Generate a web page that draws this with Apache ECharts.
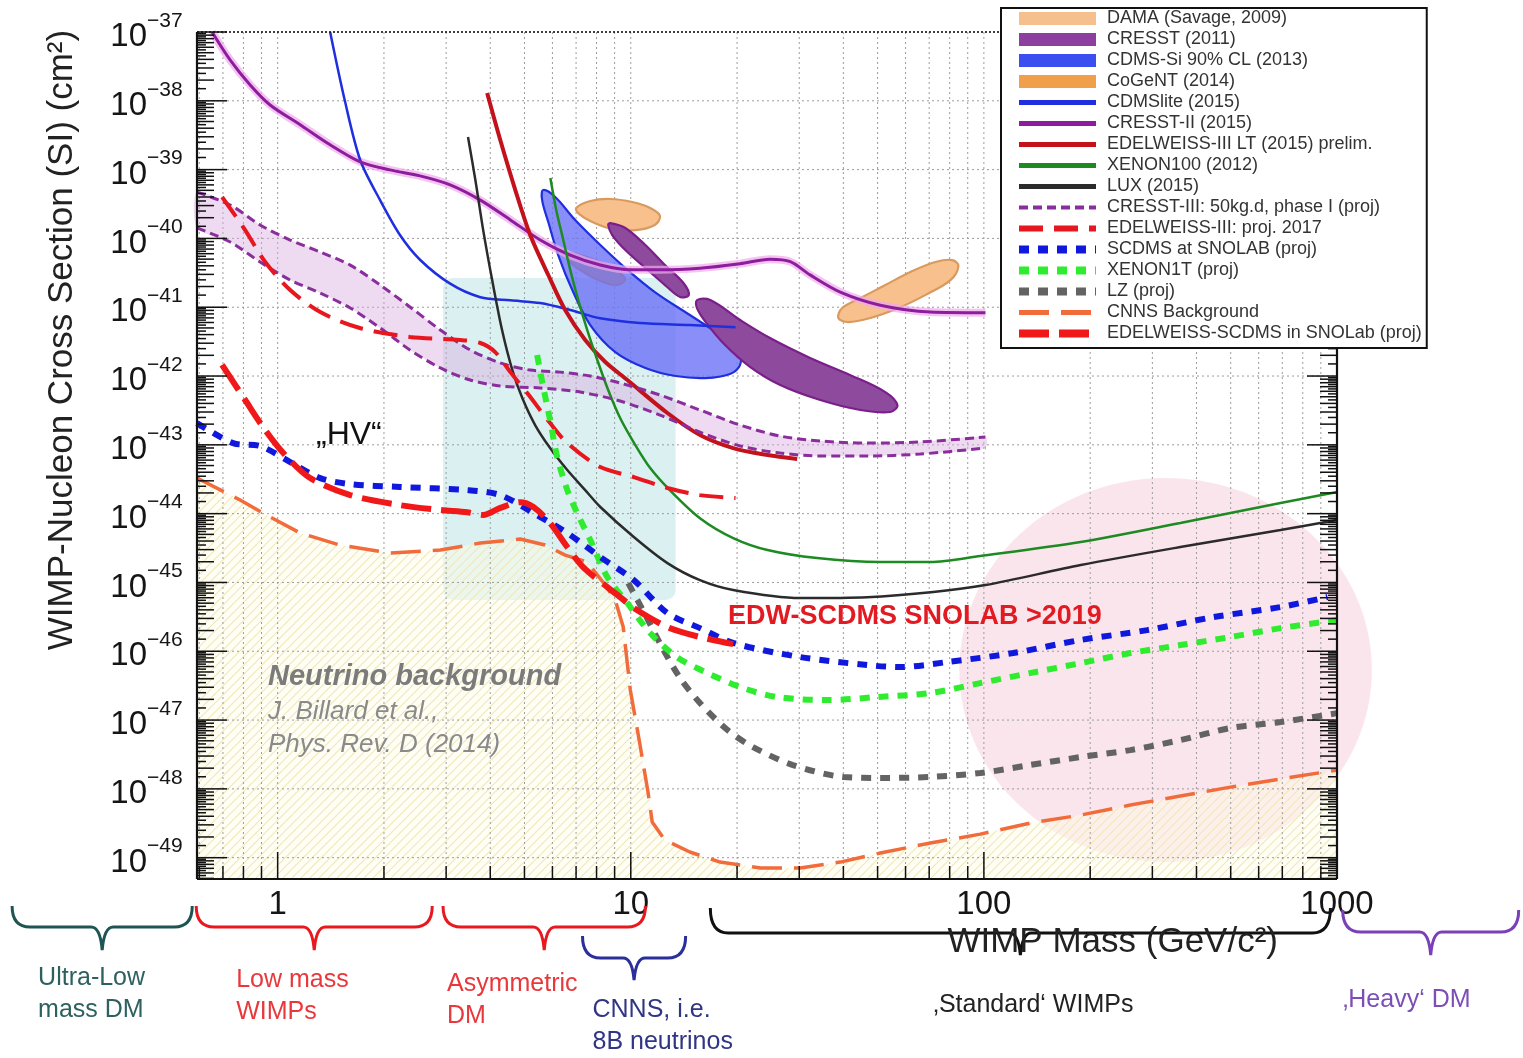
<!DOCTYPE html>
<html>
<head>
<meta charset="utf-8">
<title>WIMP-Nucleon Cross Section limits and projections</title>
<script src="https://cdn.jsdelivr.net/npm/echarts@6/dist/echarts.min.js"></script>
<style>
  html, body { margin: 0; padding: 0; background: #ffffff; }
  #chart { width: 1523px; height: 1058px; }
</style>
</head>
<body>
<div id="chart"></div>
<script>
// Axis ranges: WIMP mass in GeV/c^2, spin-independent WIMP-nucleon cross-section in cm^2
const massRange = [0.591, 1000];
const sigmaRange = [4.9e-50, 1e-37];

// Tick labels
const massTickValues = [1, 10, 100, 1000];
const massTickLabels = ['1', '10', '100', '1000'];
const sigmaTickExponents = [-49, -48, -47, -46, -45, -44, -43, -42, -41, -40, -39, -38, -37];

// Exclusion limits, [mass, sigma]
const cdmslite = [[1.408,1e-37],[1.55,1.0e-38],[1.713,1.38e-39],[1.95,3.6e-40],[2.22,1.12e-40],[2.53,4.9e-41],[3.08,2.2e-41],[3.75,1.4e-41],[4.56,1.26e-41],[5.54,1.15e-41],[6.74,9.1e-42],[8.19,6.9e-42],[10.6,5.9e-42],[14.7,5.5e-42],[19.8,5.1e-42]];
const cresst2 = [[0.652,1e-37],[0.734,3.9e-38],[0.836,1.7e-38],[0.952,8.7e-39],[1.158,4.5e-39],[1.408,2.3e-39],[1.713,1.3e-39],[2.08,9.9e-40],[2.53,8.1e-40],[3.08,6.0e-40],[3.75,3.6e-40],[4.56,1.86e-40],[5.54,9.5e-41],[6.74,5.7e-41],[8.19,4.1e-41],[9.97,3.5e-41],[12.1,3.5e-41],[15.7,3.7e-41],[20.4,4.3e-41],[24.8,5.0e-41],[28.3,4.6e-41],[32.2,2.95e-41],[39.2,1.66e-41],[50.9,1.07e-41],[70.5,8.5e-42],[101,8.3e-42]];
const edw3lt = [[3.92,1.3e-38],[4.27,2.69e-39],[4.71,5.05e-40],[5.19,1.12e-40],[5.84,2.94e-41],[6.52,9.1e-42],[7.43,3.34e-42],[8.47,1.6e-42],[9.78,8.75e-43],[12.7,2.9e-43],[15.7,1.39e-43],[19.5,8.98e-44],[24.4,7.11e-44],[29.6,6.22e-44]];
const xenon100 = [[5.92,7.55e-40],[6.15,2.59e-40],[6.44,9.48e-41],[6.74,3.47e-41],[7.10,1.27e-41],[7.53,4.66e-42],[8.04,1.71e-42],[8.63,6.26e-43],[9.33,2.45e-43],[10.3,9.93e-44],[11.35,4.6e-44],[12.9,2.2e-44],[15.7,8.6e-45],[19.5,4.42e-45],[24.4,2.96e-45],[33.7,2.26e-45],[50.9,1.98e-45],[70.5,1.98e-45],[97.7,2.42e-45],[188,3.86e-45],[360,7.3e-45],[692,1.43e-44],[1000,2.06e-44]];
const lux = [[3.46,2.98e-39],[3.63,7.06e-40],[3.82,1.32e-40],[4.05,2.48e-41],[4.32,4.66e-42],[4.62,1.22e-42],[4.93,4.79e-43],[5.36,1.94e-43],[5.91,8.98e-44],[6.61,4.3e-44],[7.43,2.2e-44],[8.20,1.25e-44],[10.2,4.57e-45],[12.7,1.91e-45],[15.7,1.08e-45],[19.5,7.76e-46],[30.2,5.93e-46],[46.7,6.1e-46],[71.9,7.25e-46],[101,9.16e-46],[188,1.79e-45],[360,3.27e-45],[692,5.78e-45],[1000,8.07e-45]];

// Projected sensitivities, [mass, sigma]
const cresst3Upper = [[0.591,4.72e-40],[0.734,3.06e-40],[0.892,1.57e-40],[1.085,9.48e-41],[1.32,6.34e-41],[1.605,4.10e-41],[1.951,2.10e-41],[2.37,1.01e-41],[2.89,4.66e-42],[3.51,2.39e-42],[4.27,1.55e-42],[5.19,1.22e-42],[6.31,1.14e-42],[7.67,1.0e-42],[9.33,7.91e-43],[12.1,5.30e-43],[15.7,3.21e-43],[20.4,1.94e-43],[26.5,1.34e-43],[34.4,1.14e-43],[46.8,1.06e-43],[66.1,1.10e-43],[101,1.30e-43]];
const cresst3Lower = [[0.591,1.42e-40],[0.734,8.87e-41],[0.892,4.54e-41],[1.085,2.48e-41],[1.32,1.61e-41],[1.605,9.73e-42],[1.951,4.99e-42],[2.37,2.39e-42],[2.89,1.31e-42],[3.51,8.75e-43],[4.27,7.16e-43],[5.54,6.70e-43],[7.19,5.85e-43],[9.33,4.33e-43],[12.1,2.71e-43],[15.7,1.53e-43],[20.4,9.61e-44],[26.5,7.6e-44],[34.4,6.88e-44],[46.8,6.88e-44],[66.1,7.35e-44],[101,8.98e-44]];
const edw3proj = [[0.696,4.0e-40],[0.809,1.32e-40],[0.922,4.54e-41],[1.085,1.78e-41],[1.32,8.5e-42],[1.71,4.99e-42],[2.37,3.69e-42],[3.29,3.34e-42],[3.75,3.02e-42],[4.13,2.23e-42],[4.56,1.14e-42],[5.09,5.66e-43],[5.91,2.07e-43],[6.61,1.06e-43],[8.20,4.75e-44],[10.2,3.4e-44],[12.7,2.36e-44],[15.7,1.86e-44],[19.8,1.69e-44]];
const scdms = [[0.591,2.07e-43],[0.748,1.06e-43],[0.892,9.6e-44],[1.085,5.62e-44],[1.32,3.29e-44],[1.605,2.69e-44],[2.22,2.44e-44],[3.44,2.20e-44],[4.27,1.86e-44],[5.30,1.02e-44],[6.61,5.23e-45],[8.20,2.34e-45],[10.2,1.08e-45],[12.7,3.59e-46],[15.7,2.17e-46],[19.5,1.32e-46],[30.2,8.24e-47],[46.7,6.30e-47],[58.0,5.89e-47],[78.8,6.97e-47],[121,9.42e-47],[188,1.46e-46],[290,2.03e-46],[447,3.14e-46],[692,4.39e-46],[940,6.14e-46]];
const xenon1t = [[5.43,2.02e-42],[5.65,6.92e-43],[5.91,2.29e-43],[6.19,6.65e-44],[6.61,2.20e-44],[7.05,1.02e-44],[7.68,4.13e-45],[8.58,1.20e-45],[9.78,5.02e-46],[11.35,1.84e-46],[13.5,8.24e-47],[16.5,4.82e-47],[20.8,2.92e-47],[26.0,2.16e-47],[36.0,1.95e-47],[49.9,2.16e-47],[70.5,2.47e-47],[97.7,3.45e-47],[135,4.82e-47],[188,6.73e-47],[260,9.42e-47],[360,1.23e-46],[499,1.61e-46],[692,2.17e-46],[1000,2.84e-46]];
const lz = [[9.84,9.8e-46],[11.0,3.36e-46],[12.3,1.11e-46],[13.8,4.07e-47],[15.7,1.77e-47],[18.8,7.16e-48],[22.2,4.05e-48],[28.8,2.22e-48],[40.0,1.49e-48],[50.9,1.44e-48],[70.5,1.49e-48],[97.7,1.70e-48],[135,2.22e-48],[188,2.90e-48],[260,3.66e-48],[360,5.12e-48],[499,7.66e-48],[692,9.35e-48],[1000,1.26e-47]];
const cnns = [[0.591,3.29e-44],[0.783,1.58e-44],[0.952,8.93e-45],[1.158,5.23e-45],[1.50,3.5e-45],[2.08,2.67e-45],[2.89,2.96e-45],[3.75,3.74e-45],[4.86,4.28e-45],[5.72,3.5e-45],[6.52,2.5e-45],[7.53,1.98e-45],[8.47,9.16e-46],[9.04,5.55e-46],[9.52,2.25e-46],[9.97,2.73e-47],[10.6,4.63e-48],[11.2,8.69e-49],[11.5,3.29e-49],[12.5,1.8e-49],[14.7,1.21e-49],[17.9,8.63e-50],[23.3,7.06e-50],[30.2,7.06e-50],[39.2,8.63e-50],[50.9,1.17e-49],[70.5,1.63e-49],[97.7,2.2e-49],[135,3.18e-49],[188,4.16e-49],[260,5.82e-49],[360,7.86e-49],[499,1.06e-48],[692,1.39e-48],[1000,1.88e-48]];
const edwScdms = [[0.696,1.45e-42],[0.809,4.48e-43],[0.922,1.64e-43],[1.05,7.11e-44],[1.236,3.29e-44],[1.605,1.86e-44],[2.22,1.33e-44],[2.89,1.13e-44],[3.44,1.05e-44],[3.82,9.55e-45],[4.27,1.21e-44],[4.86,1.47e-44],[5.30,1.25e-44],[5.91,7.3e-45],[6.61,3.27e-45],[7.33,1.67e-45],[8.58,8.57e-46],[9.33,6.14e-46],[10.2,4.25e-46],[12.7,2.25e-46],[15.7,1.61e-46],[19.5,1.27e-46]];

// Signal-claim contours, [mass, sigma] outlines
const damaRegions = [
  [[7.01,2.77e-40],[7.68,3.50e-40],[8.75,3.74e-40],[10.1,3.38e-40],[11.35,2.77e-40],[12.1,2.12e-40],[11.7,1.57e-40],[10.3,1.32e-40],[8.86,1.37e-40],[7.78,1.73e-40],[7.15,2.26e-40]],
  [[38.7,6.97e-42],[39.7,9.73e-42],[44.7,1.36e-41],[52.6,2.10e-41],[61.9,3.25e-41],[72.9,4.54e-41],[81.4,4.85e-41],[84.7,3.97e-41],[80.4,2.48e-41],[68.2,1.50e-41],[57.3,9.73e-42],[47.7,6.97e-42],[41.3,6.09e-42]]
];
const cresst2011Regions = [
  [[8.75,1.67e-40],[9.65,1.42e-40],[11.0,8.02e-41],[12.5,4.10e-41],[14.1,2.25e-41],[14.6,1.50e-41],[13.8,1.41e-41],[12.5,2.10e-41],[11.0,3.72e-41],[9.65,6.78e-41],[8.86,1.12e-40],[8.63,1.57e-40]],
  [[15.4,1.27e-41],[16.8,1.27e-41],[20.4,6.52e-42],[24.8,3.56e-42],[32.2,1.83e-42],[41.9,1.03e-42],[52.6,5.85e-43],[56.9,3.79e-43],[54.3,3.0e-43],[44.7,3.21e-43],[34.4,4.48e-43],[26.5,7.40e-43],[21.8,1.35e-42],[18.5,2.82e-42],[16.3,6.09e-42],[15.4,9.73e-42]]
];
const cdmsSiRegions = [
  [[5.65,5.05e-40],[6.11,4.0e-40],[6.96,1.85e-40],[8.20,8.02e-41],[9.65,3.72e-41],[11.7,1.66e-41],[14.7,7.70e-42],[17.9,3.94e-42],[20.2,2.23e-42],[20.4,1.45e-42],[19.1,1.07e-42],[16.3,9.35e-43],[13.4,1.0e-42],[11.0,1.31e-42],[9.04,2.23e-42],[7.68,5.51e-42],[6.83,1.78e-41],[6.23,5.74e-41],[5.84,1.73e-40],[5.61,3.61e-40]]
];
const cogentRegions = [
  [[6.61,6.14e-41],[7.19,5.74e-41],[8.20,4.54e-41],[9.22,3.25e-41],[9.65,2.48e-41],[9.04,2.10e-41],[8.09,2.48e-41],[7.19,3.47e-41],[6.65,4.85e-41]]
];

// Theory-motivated regions: [mass from, sigma from, mass to, sigma to]
const asymmetricBox = [[2.94, 5.55e-46, 13.4, 2.65e-41]];
// Heavy DM disc: [centre mass, centre sigma, left-edge mass, top-edge sigma]
const heavyDisc = [[327, 5.33e-47, 85.2, 3.29e-44]];

// Mass ranges of the DM categories below the axis
const bandLabels = [['Ultra-Low', 'mass DM'], ['Low mass', 'WIMPs'], ['Asymmetric', 'DM'], ['CNNS, i.e.', '8B neutrinos'], ['\u201aStandard\u2018 WIMPs'], ['\u201aHeavy\u2018 DM']];
const bandFrom = [0.177, 0.588, 2.94, 7.30, 16.8, 1038];
const bandTo = [0.573, 2.74, 11.0, 14.3, 958, 3270];

// ---- styling ----
const FONT = '"Liberation Sans", Arial, Helvetica, sans-serif';
const braceRows = [[906, 927, 950], [906, 927, 950], [906, 927, 950], [936, 958, 980], [908, 933, 955], [910, 932, 955]];
const braceColors = ['#1d5552', '#e8181e', '#e8181e', '#2a2f9a', '#111111', '#7b3fb8'];
const bandTextColors = ['#2d6160', '#e8383c', '#e8383c', '#303584', '#222222', '#7b4fb5'];
const labelDx = [26, 40, 4, 10, 223, 0];
const labelY = [978, 980, 984, 1010, 1005, 1000];

function makeHatch() {
  const c = document.createElement('canvas');
  c.width = 9; c.height = 9;
  const g = c.getContext('2d');
  g.fillStyle = 'rgba(255,253,232,0.45)';
  g.fillRect(0, 0, 9, 9);
  g.strokeStyle = '#f0e8bc';
  g.lineWidth = 1.2;
  g.beginPath();
  g.moveTo(0, 9); g.lineTo(9, 0);
  g.moveTo(-2, 2); g.lineTo(2, -2);
  g.moveTo(7, 11); g.lineTo(11, 7);
  g.stroke();
  return c;
}
const hatchPattern = { image: makeHatch(), repeat: 'repeat' };

const chart = echarts.init(document.getElementById('chart'), null, { renderer: 'canvas' });

function gridItem(params, api) {
  const cs = params.coordSys;
  const L = cs.x, T = cs.y, R = cs.x + cs.width, B = cs.y + cs.height;
  const kids = [];
  const st = { stroke: '#9c9c9c', lineWidth: 1, lineDash: [2, 3] };
  for (let e = -1; e <= 2; e++) {
    for (let k = 1; k <= 9; k++) {
      const v = k * Math.pow(10, e);
      if (v <= massRange[0] * 1.001 || v >= massRange[1] * 0.999) continue;
      const x = api.coord([v, sigmaRange[0]])[0];
      kids.push({ type: 'line', shape: { x1: x, y1: T, x2: x, y2: B }, style: st });
    }
  }
  sigmaTickExponents.forEach(function (e) {
    if (e === -37) return;
    const y = api.coord([massRange[0], Math.pow(10, e)])[1];
    kids.push({ type: 'line', shape: { x1: L, y1: y, x2: R, y2: y }, style: st });
  });
  return { type: 'group', children: kids };
}

function frameItem(params, api) {
  const cs = params.coordSys;
  const L = cs.x, T = cs.y, R = cs.x + cs.width, B = cs.y + cs.height;
  const kids = [];
  const seg = function (x1, y1, x2, y2, w, dash) {
    kids.push({ type: 'line', shape: { x1: x1, y1: y1, x2: x2, y2: y2 }, style: { stroke: '#111', lineWidth: w, lineDash: dash || null } });
  };
  for (let e = -50; e <= -37; e++) {
    for (let k = 1; k < 10; k += 0.5) {
      const v = k * Math.pow(10, e);
      if (v < sigmaRange[0] || v > sigmaRange[1] * 1.0001) continue;
      const y = api.coord([massRange[0], v])[1];
      const len = k === 1 ? 30 : (k % 1 === 0 ? 17 : 9);
      seg(L, y, L + len, y, 1.5);
      seg(R, y, R - len, y, 1.5);
    }
  }
  for (let e = -1; e <= 3; e++) {
    for (let k = 1; k <= 9; k++) {
      const v = k * Math.pow(10, e);
      if (v < massRange[0] || v > massRange[1] * 1.0001) continue;
      const x = api.coord([v, sigmaRange[0]])[0];
      seg(x, B, x, B - (k === 1 ? 27 : 13), 1.5);
    }
  }
  seg(L, T, L, B, 2.2);
  seg(L, B, R, B, 2.2);
  seg(R, T, R, B, 2.2);
  seg(L, T, R, T, 1.6, [2, 2]);
  sigmaTickExponents.forEach(function (e) {
    const y = api.coord([massRange[0], Math.pow(10, e)])[1];
    kids.push({ type: 'text', style: { text: '10', x: L - 50, y: y + 5, align: 'right', verticalAlign: 'middle', fontSize: 33, fontFamily: FONT, fill: '#151515' } });
    kids.push({ type: 'text', style: { text: '\u2212' + (-e), x: L - 50, y: y - 11, align: 'left', verticalAlign: 'middle', fontSize: 21, fontFamily: FONT, fill: '#151515' } });
  });
  massTickValues.forEach(function (v, i) {
    const x = api.coord([v, sigmaRange[0]])[0];
    kids.push({ type: 'text', style: { text: massTickLabels[i], x: x, y: B + 26, align: 'center', verticalAlign: 'middle', fontSize: 33, fontFamily: FONT, fill: '#151515' } });
  });
  return { type: 'group', children: kids };
}

function braceItem(params, api) {
  const i = params.dataIndex;
  const x0 = api.coord([api.value(0), sigmaRange[0]])[0];
  const x1 = api.coord([api.value(2), sigmaRange[0]])[0];
  const yTop = braceRows[i][0], yBar = braceRows[i][1], yTip = braceRows[i][2];
  const tip = (x0 + x1) / 2, r = 18, w = 11;
  const d = 'M' + x0 + ',' + yTop + ' Q' + x0 + ',' + yBar + ' ' + (x0 + r) + ',' + yBar +
    ' L' + (tip - w) + ',' + yBar + ' Q' + (tip - 2) + ',' + yBar + ' ' + tip + ',' + yTip +
    ' Q' + (tip + 2) + ',' + yBar + ' ' + (tip + w) + ',' + yBar +
    ' L' + (x1 - r) + ',' + yBar + ' Q' + x1 + ',' + yBar + ' ' + x1 + ',' + yTop;
  const kids = [{ type: 'path', shape: { pathData: d }, style: { stroke: braceColors[i], lineWidth: 3, fill: 'none' } }];
  bandLabels[i].forEach(function (t, j) {
    kids.push({ type: 'text', style: { text: t, x: x0 + labelDx[i], y: labelY[i] + j * 32, align: 'left', verticalAlign: 'middle', fontSize: 25, fontFamily: FONT, fill: bandTextColors[i] } });
  });
  return { type: 'group', children: kids };
}

function regionSeries(name, polys, fill, stroke, z) {
  return {
    name: name, type: 'custom', z: z, silent: true,
    data: polys.map(function (p) { return p[0]; }),
    itemStyle: { color: fill },
    renderItem: function (params, api) {
      return {
        type: 'polygon',
        shape: { points: polys[params.dataIndex].map(function (p) { return api.coord(p); }), smooth: 0.35 },
        style: { fill: fill, stroke: stroke, lineWidth: 2.2 }
      };
    }
  };
}

function lineSeries(name, data, color, width, dash, z, extra) {
  return Object.assign({
    name: name, type: 'line', data: data, z: z, symbol: 'none', smooth: 0.3, silent: true,
    lineStyle: { color: color, width: width, type: dash || 'solid', cap: 'butt' },
    itemStyle: { color: color }
  }, extra || {});
}

// Legend entries drawn as plain, thick line samples (the marker dot is hidden)
function lineEntry(name, width) { return { name: name, itemStyle: { opacity: 0 }, lineStyle: { width: width } }; }

const bandPolygon = cresst3Upper.concat(cresst3Lower.slice().reverse());
// Neutrino floor: everything below the CNNS background curve
const floorPolygon = cnns.concat([[massRange[1], sigmaRange[0]], [massRange[0], sigmaRange[0]]]);

const option = {
  animation: false,
  backgroundColor: '#ffffff',
  grid: { left: 197, top: 32, width: 1140, height: 847 },
  xAxis: { type: 'log', logBase: 10, min: massRange[0], max: massRange[1], show: false },
  yAxis: { type: 'log', logBase: 10, min: sigmaRange[0], max: sigmaRange[1], show: false },
  legend: {
    orient: 'vertical', left: 1001, top: 8, z: 20, selectedMode: false,
    itemWidth: 77, itemHeight: 13, itemGap: 0,
    padding: [0, 5, 4, 14],
    backgroundColor: '#ffffff', borderColor: '#111', borderWidth: 2,
    lineStyle: { width: 'inherit' },
    textStyle: { fontFamily: FONT, fontSize: 18, color: '#333', lineHeight: 21, padding: [0, 0, 0, 6] },
    data: [
      { name: 'DAMA (Savage, 2009)', icon: 'rect', itemStyle: { color: '#f6c08e' } },
      { name: 'CRESST (2011)', icon: 'rect', itemStyle: { color: '#8d3f9f' } },
      { name: 'CDMS-Si 90% CL (2013)', icon: 'rect', itemStyle: { color: '#3b4ff0' } },
      { name: 'CoGeNT (2014)', icon: 'rect', itemStyle: { color: '#f0a04a' } },
      lineEntry('CDMSlite (2015)', 5), lineEntry('CRESST-II (2015)', 5), lineEntry('EDELWEISS-III LT (2015) prelim.', 5),
      lineEntry('XENON100 (2012)', 5), lineEntry('LUX (2015)', 5), lineEntry('CRESST-III: 50kg.d, phase I (proj)', 4),
      lineEntry('EDELWEISS-III: proj. 2017', 6), lineEntry('SCDMS at SNOLAB (proj)', 8), lineEntry('XENON1T (proj)', 8),
      lineEntry('LZ (proj)', 8), lineEntry('CNNS Background', 5), lineEntry('EDELWEISS-SCDMS in SNOLab (proj)', 8)
    ]
  },
  graphic: {
    elements: [
      { type: 'text', x: 62, y: 340, rotation: Math.PI / 2, z: 30,
        style: { text: 'WIMP-Nucleon Cross Section (SI) (cm\u00b2)', align: 'center', verticalAlign: 'middle', fontSize: 35, fontFamily: FONT, fill: '#222' } },
      { type: 'text', x: 1278, y: 942, z: 30,
        style: { text: 'WIMP Mass (GeV/c\u00b2)', align: 'right', verticalAlign: 'middle', fontSize: 35, fontFamily: FONT, fill: '#222' } },
      { type: 'text', x: 316, y: 435, z: 30,
        style: { text: '\u201eHV\u201c', align: 'left', verticalAlign: 'middle', fontSize: 32, fontFamily: FONT, fill: '#111' } },
      { type: 'text', x: 728, y: 617, z: 30,
        style: { text: 'EDW-SCDMS SNOLAB >2019', align: 'left', verticalAlign: 'middle', fontSize: 27, fontWeight: 'bold', fontFamily: FONT, fill: '#e21b23' } },
      { type: 'text', x: 268, y: 677, z: 30,
        style: { text: 'Neutrino background', align: 'left', verticalAlign: 'middle', fontSize: 29, fontWeight: 'bold', fontStyle: 'italic', fontFamily: FONT, fill: '#7b7b7b' } },
      { type: 'text', x: 268, y: 712, z: 30,
        style: { text: 'J. Billard et al.,', align: 'left', verticalAlign: 'middle', fontSize: 26, fontStyle: 'italic', fontFamily: FONT, fill: '#8a8a8a' } },
      { type: 'text', x: 268, y: 745, z: 30,
        style: { text: 'Phys. Rev. D (2014)', align: 'left', verticalAlign: 'middle', fontSize: 26, fontStyle: 'italic', fontFamily: FONT, fill: '#8a8a8a' } }
    ]
  },
  series: [
    {
      name: 'Asymmetric DM region', type: 'custom', z: 1, silent: true,
      data: asymmetricBox, encode: { x: [0, 2], y: [1, 3] },
      renderItem: function (params, api) {
        const a = api.coord([api.value(0), api.value(1)]);
        const b = api.coord([api.value(2), api.value(3)]);
        return { type: 'rect', shape: { x: a[0], y: b[1], width: b[0] - a[0], height: a[1] - b[1], r: 10 },
          style: { fill: 'rgba(204,235,235,0.7)' } };
      }
    },
    {
      name: 'Heavy DM region', type: 'custom', z: 1, silent: true,
      data: heavyDisc, encode: { x: [0, 2], y: [1, 3] },
      renderItem: function (params, api) {
        const c = api.coord([api.value(0), api.value(1)]);
        const left = api.coord([api.value(2), api.value(1)]);
        const top = api.coord([api.value(0), api.value(3)]);
        return { type: 'ellipse', shape: { cx: c[0], cy: c[1], rx: c[0] - left[0], ry: c[1] - top[1] },
          style: { fill: 'rgba(247,204,220,0.5)' } };
      }
    },
    {
      name: 'Neutrino floor', type: 'custom', z: 2, silent: true, data: [floorPolygon[0]],
      renderItem: function (params, api) {
        return { type: 'polygon', shape: { points: floorPolygon.map(function (p) { return api.coord(p); }) },
          style: { fill: hatchPattern } };
      }
    },
    { name: 'Grid', type: 'custom', z: 3, silent: true, data: [[1, 1e-45]], renderItem: gridItem },
    {
      name: 'CRESST-III band', type: 'custom', z: 4, silent: true, data: [bandPolygon[0]],
      renderItem: function (params, api) {
        return { type: 'polygon', shape: { points: bandPolygon.map(function (p) { return api.coord(p); }), smooth: 0.25 },
          style: { fill: 'rgba(214,168,222,0.42)' } };
      }
    },
    regionSeries('CoGeNT (2014)', cogentRegions, '#f2a449', '#e08a30', 5),
    regionSeries('CDMS-Si 90% CL (2013)', cdmsSiRegions, 'rgba(108,114,246,0.8)', '#1f2fe0', 5),
    regionSeries('DAMA (Savage, 2009)', damaRegions, '#f7c08c', '#d89a5e', 5),
    regionSeries('CRESST (2011)', cresst2011Regions, '#8e4a9c', '#7a1f8a', 5),
    lineSeries('CRESST-II band', cresst2, 'rgba(240,170,236,0.7)', 8, null, 5),
    lineSeries('CDMSlite (2015)', cdmslite, '#1f2fe0', 2.5, null, 6),
    lineSeries('CRESST-II (2015)', cresst2, '#8c1d9c', 3, null, 6),
    lineSeries('EDELWEISS-III LT (2015) prelim.', edw3lt, '#c3121c', 4, null, 6),
    lineSeries('XENON100 (2012)', xenon100, '#1d8a22', 2.5, null, 6),
    lineSeries('LUX (2015)', lux, '#2b2b2b', 2.5, null, 6),
    lineSeries('CRESST-III: 50kg.d, phase I (proj)', cresst3Upper, '#8a2e9c', 3, [9, 5], 6),
    lineSeries('CRESST-III lower edge', cresst3Lower, '#8a2e9c', 3, [9, 5], 6),
    lineSeries('EDELWEISS-III: proj. 2017', edw3proj, '#e8161e', 4, [24, 11], 6),
    lineSeries('CNNS Background', cnns, '#f26b3a', 3.5, [30, 12], 6, { smooth: 0 }),
    lineSeries('LZ (proj)', lz, '#636363', 6, [10, 9], 6),
    lineSeries('XENON1T (proj)', xenon1t, '#2fec2f', 6, [10, 9], 6),
    lineSeries('SCDMS at SNOLAB (proj)', scdms, '#1018dd', 6, [10, 9], 6),
    lineSeries('EDELWEISS-SCDMS in SNOLab (proj)', edwScdms, '#f01818', 6, [30, 10], 6),
    { name: 'Frame', type: 'custom', z: 10, silent: true, data: [[1, 1e-45]], renderItem: frameItem },
    {
      name: 'DM categories', type: 'custom', z: 10, silent: true,
      data: bandFrom.map(function (f, i) { return [f, 1e-45, bandTo[i]]; }),
      encode: { x: [0, 2], y: 1 },
      renderItem: braceItem
    }
  ]
};

chart.setOption(option);
</script>
</body>
</html>
